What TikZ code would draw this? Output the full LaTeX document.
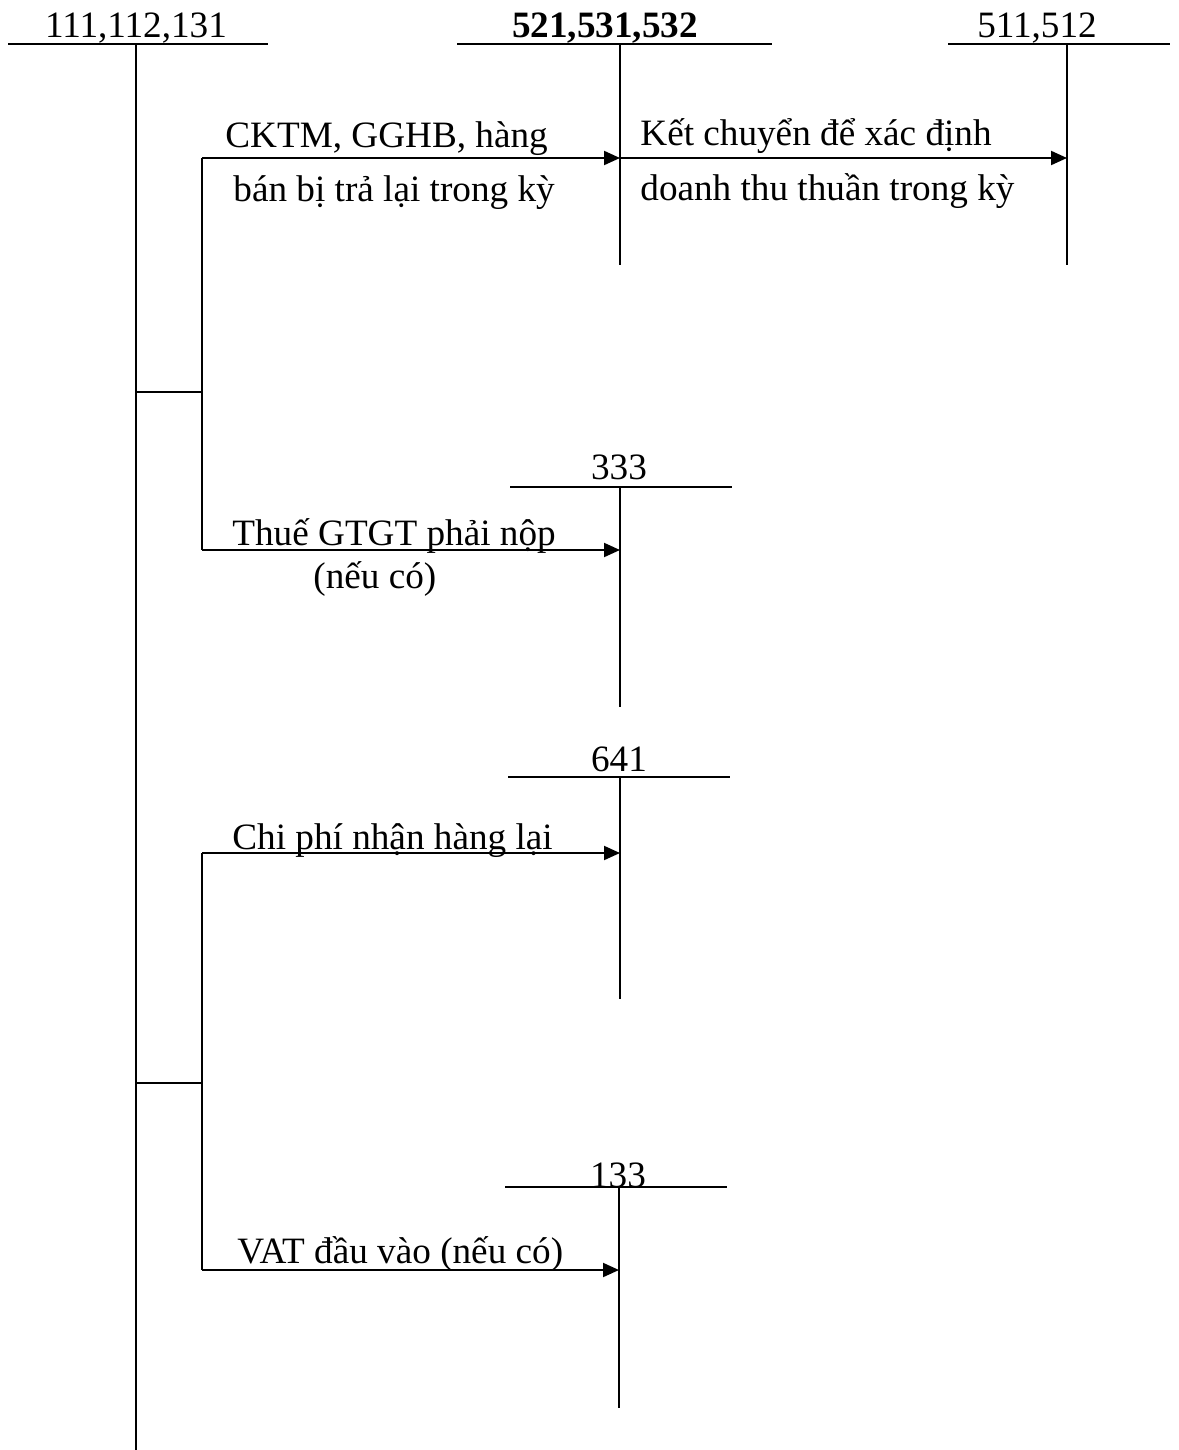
\documentclass[tikz,border=0pt]{standalone}
\usepackage{fontspec}
\setmainfont{Liberation Serif}
\usetikzlibrary{arrows.meta}
\begin{document}
\begin{tikzpicture}[x=0.5pt,y=-0.5pt,
  ln/.style={line width=1pt},
  arr/.style={line width=1pt,-{Triangle[length=8pt,width=7pt]}},
  lbl/.style={inner sep=0pt,anchor=base west,font=\fontsize{18.6}{22}\selectfont},
  hdr/.style={inner sep=0pt,anchor=base,font=\fontsize{18.6}{22}\selectfont}]
\useasboundingbox (0,0) rectangle (1178,1450);
% headers
\node[hdr] (h1) at (136,38) {111,112,131};
\node[hdr] (h2) at (605,38) {\bfseries 521,531,532};
\node[hdr] (h3) at (1037,38) {511,512};
\coordinate (a1l) at (8,44); \coordinate (a1r) at (268,44); \coordinate (a1t) at (136,44); \coordinate (a1b) at (136,1450);
\coordinate (a2l) at (457,44); \coordinate (a2r) at (772,44); \coordinate (a2t) at (620,44); \coordinate (a2b) at (620,265);
\coordinate (a3l) at (948,44); \coordinate (a3r) at (1170,44); \coordinate (a3t) at (1067,44); \coordinate (a3b) at (1067,265);
\draw[ln] (a1l) -- (a1r); \draw[ln] (a1t) -- (a1b);
\draw[ln] (a2l) -- (a2r); \draw[ln] (a2t) -- (a2b);
\draw[ln] (a3l) -- (a3r); \draw[ln] (a3t) -- (a3b);
% 333
\node[hdr] (h4) at (619,479) {333};
\coordinate (b1l) at (510,487); \coordinate (b1r) at (732,487); \coordinate (b1t) at (620,487); \coordinate (b1b) at (620,707);
\draw[ln] (b1l) -- (b1r); \draw[ln] (b1t) -- (b1b);
% 641
\node[hdr] (h5) at (619,771) {641};
\coordinate (b2l) at (508,777); \coordinate (b2r) at (730,777); \coordinate (b2t) at (620,777); \coordinate (b2b) at (620,999);
\draw[ln] (b2l) -- (b2r); \draw[ln] (b2t) -- (b2b);
% 133
\node[hdr] (h6) at (618,1187) {133};
\coordinate (b3l) at (505,1187); \coordinate (b3r) at (727,1187); \coordinate (b3t) at (619,1187); \coordinate (b3b) at (619,1408);
\draw[ln] (b3l) -- (b3r); \draw[ln] (b3t) -- (b3b);
% brackets
\coordinate (k1) at (136,392); \coordinate (k1r) at (202,392);
\coordinate (k1t) at (202,158); \coordinate (k1b) at (202,550);
\draw[ln] (k1) -- (k1r);
\draw[ln] (k1t) -- (k1b);
\coordinate (k2) at (136,1083); \coordinate (k2r) at (202,1083);
\coordinate (k2t) at (202,853); \coordinate (k2b) at (202,1270);
\draw[ln] (k2) -- (k2r);
\draw[ln] (k2t) -- (k2b);
% arrows
\coordinate (e1) at (620,158); \coordinate (e2) at (1067,158);
\coordinate (e3) at (620,550); \coordinate (e4) at (620,853); \coordinate (e5) at (619,1270);
\draw[arr] (k1t) -- (e1);
\draw[arr] (e1) -- (e2);
\draw[arr] (k1b) -- (e3);
\draw[arr] (k2t) -- (e4);
\draw[arr] (k2b) -- (e5);
% labels
\node[lbl] (t1) at (225,148) {CKTM, GGHB, hàng};
\node[lbl] (t2) at (233,201) {bán bị trả lại trong kỳ};
\node[lbl] (t3) at (640,146) {Kết chuyển để xác định};
\node[lbl] (t4) at (640,200) {doanh thu thuần trong kỳ};
\node[lbl] (t5) at (232,545) {Thuế GTGT phải nộp};
\node[lbl] (t6) at (313,588) {(nếu có)};
\node[lbl] (t7) at (232,849) {Chi phí nhận hàng lại};
\node[lbl] (t8) at (237,1263) {VAT đầu vào (nếu có)};
\end{tikzpicture}
\end{document}
